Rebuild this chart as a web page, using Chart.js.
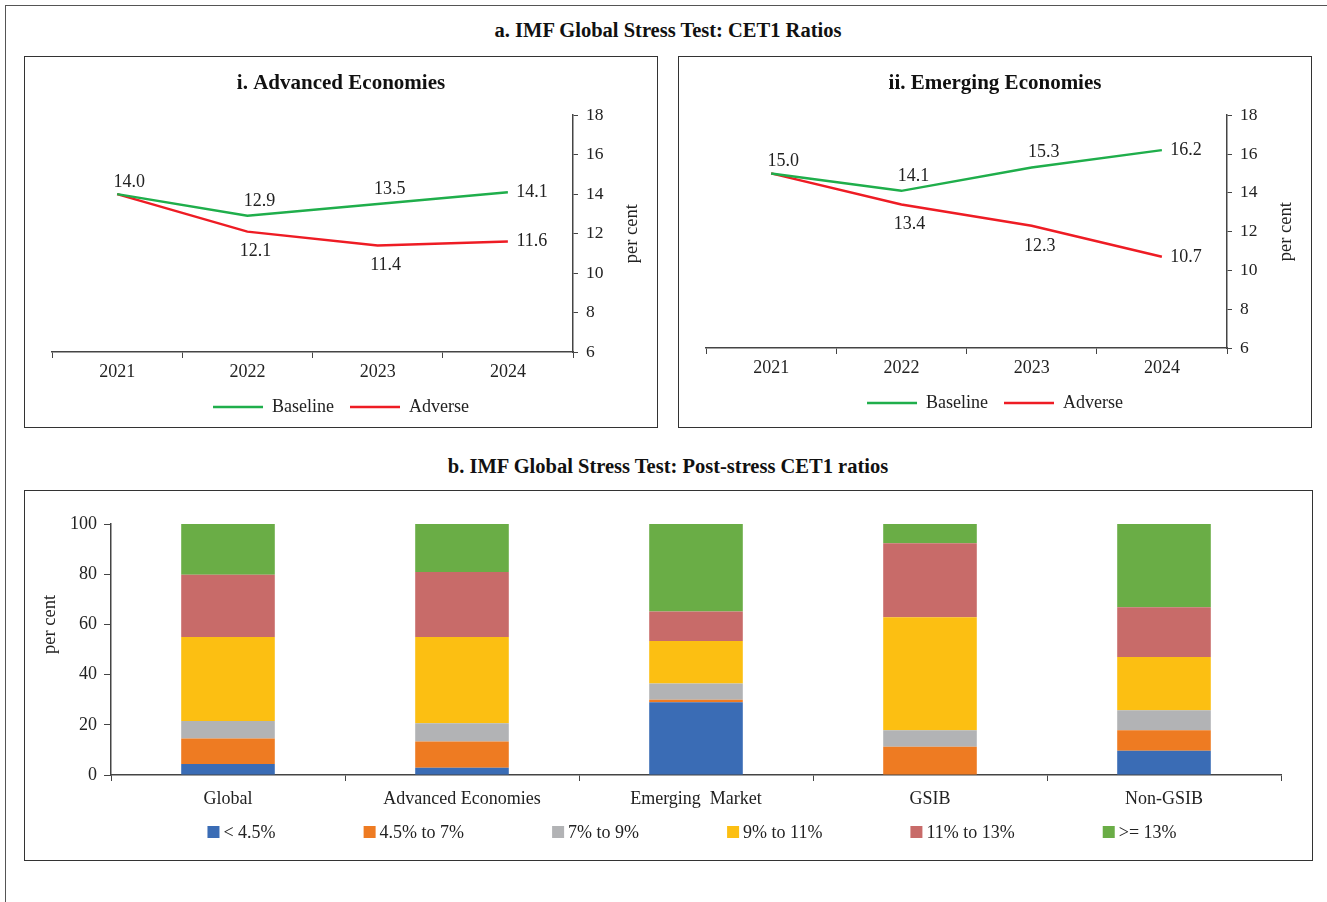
<!DOCTYPE html>
<html>
<head>
<meta charset="utf-8">
<script src="https://cdn.jsdelivr.net/npm/chart.js@4.4.1/dist/chart.umd.min.js"></script>
<style>
  body { margin: 0; background: #fff; font-family: "Liberation Serif", serif; }
  .frame { position: absolute; left: 5px; top: 5px; width: 1340px; height: 920px; border: 1.5px solid #555; }
  .box { position: absolute; border: 1.5px solid #333; box-sizing: border-box; }
  .head { position: absolute; left: 0; width: 1336px; text-align: center; font-weight: bold; font-size: 20.5px; line-height: 24px; color: #111; }
  canvas { position: absolute; }
</style>
</head>
<body>
<div class="frame"></div>
<div class="head" style="top:18px">a. IMF Global Stress Test: CET1 Ratios</div>
<div class="box" style="left:24px;top:56px;width:634px;height:372px"></div>
<div class="box" style="left:678px;top:56px;width:634px;height:372px"></div>
<div class="head" style="top:454px">b. IMF Global Stress Test: Post-stress CET1 ratios</div>
<div class="box" style="left:24px;top:490px;width:1289px;height:371px"></div>

<canvas id="adv" width="630" height="368" style="left:26px;top:58px"></canvas>
<canvas id="emg" width="630" height="368" style="left:680px;top:58px"></canvas>
<canvas id="bars" width="1284" height="367" style="left:26px;top:492px"></canvas>

<script>
// ---- data ----
const years = ["2021", "2022", "2023", "2024"];
const advBaseline = [14.0, 12.9, 13.5, 14.1];
const advAdverse  = [14.0, 12.1, 11.4, 11.6];
const emgBaseline = [15.0, 14.1, 15.3, 16.2];
const emgAdverse  = [15.0, 13.4, 12.3, 10.7];

const groups = ["Global", "Advanced Economies", "Emerging  Market", "GSIB", "Non-GSIB"];
const bandLabels = ["< 4.5%", "4.5% to 7%", "7% to 9%", "9% to 11%", "11% to 13%", ">= 13%"];
const below45   = [4.4, 2.9, 29.0, 0.0, 9.7];
const from45to7 = [10.1, 10.4, 1.0, 11.3, 8.1];
const from7to9  = [7.0, 7.3, 6.5, 6.5, 8.0];
const from9to11 = [33.5, 34.4, 16.9, 45.0, 21.2];
const from11to13 = [24.8, 25.9, 11.7, 29.5, 19.8];
const above13   = [20.2, 19.1, 34.9, 7.7, 33.2];

const bandColors = ["#3a6cb5", "#ee7b22", "#b2b3b5", "#fcbf12", "#c86b69", "#6aad46"];
const FONT = "'Liberation Serif', serif";
const INK = "#222";

// value labels next to the line points
const pointLabels = {
  id: "pointLabels",
  afterDatasetsDraw(chart) {
    const { ctx } = chart;
    ctx.save();
    ctx.font = "18px " + FONT;
    ctx.fillStyle = INK;
    ctx.textAlign = "center";
    ctx.textBaseline = "middle";
    chart.data.datasets.forEach((ds, di) => {
      const meta = chart.getDatasetMeta(di);
      meta.data.forEach((pt, i) => {
        if (i === 0 && di > 0) return; // both series start at the same value
        const last = i === ds.data.length - 1;
        let dx, dy;
        if (last) { dx = 24; dy = 0; }
        else if (i === 0) { dx = 12; dy = -12; }
        else if (di === 0) { dx = 12; dy = -15; }
        else { dx = 8; dy = 20; }
        ctx.fillText(ds.data[i].toFixed(1), pt.x + dx, pt.y + dy);
      });
    });
    ctx.restore();
  },
};

// rotated "per cent" beside the plot, reading bottom to top
const sideTitle = {
  id: "sideTitle",
  afterDraw(chart, args, opts) {
    if (!opts.text) return;
    const { ctx, chartArea } = chart;
    const x = opts.side === "left" ? chartArea.left - opts.offset : chartArea.right + opts.offset;
    ctx.save();
    ctx.translate(x, (chartArea.top + chartArea.bottom) / 2 + (opts.dy || 0));
    ctx.rotate(-Math.PI / 2);
    ctx.font = "18.5px " + FONT;
    ctx.fillStyle = INK;
    ctx.textAlign = "center";
    ctx.textBaseline = "middle";
    ctx.fillText(opts.text, 0, 0);
    ctx.restore();
  },
};

// one-row legend with wide, Excel-like spacing between entries
const rowLegend = {
  id: "rowLegend",
  afterDraw(chart, args, opts) {
    if (!opts.offset) return;
    const { ctx, chartArea } = chart;
    ctx.save();
    ctx.font = "18px " + FONT;
    ctx.textBaseline = "middle";
    const items = chart.data.datasets.map((ds) => ({
      text: ds.label,
      color: ds.backgroundColor,
      w: opts.box + opts.gap + ctx.measureText(ds.label).width,
    }));
    const total = items.reduce((a, it) => a + it.w, 0) + opts.spacing * (items.length - 1);
    let x = (chartArea.left + chartArea.right) / 2 - total / 2 + (opts.dx || 0);
    const y = chartArea.bottom + opts.offset;
    items.forEach((it) => {
      ctx.fillStyle = it.color;
      ctx.fillRect(x, y - opts.box / 2, opts.box, opts.box);
      ctx.fillStyle = INK;
      ctx.fillText(it.text, x + opts.box + opts.gap, y + 1);
      x += it.w + opts.spacing;
    });
    ctx.restore();
  },
};

function lineConfig(title, baseline, adverse, bottomPad) {
  return {
    type: "line",
    data: {
      labels: years,
      datasets: [
        { label: "Baseline", data: baseline, borderColor: "#1fae4b", backgroundColor: "#1fae4b",
          borderWidth: 2.5, pointRadius: 0, tension: 0 },
        { label: "Adverse", data: adverse, borderColor: "#ee1c24", backgroundColor: "#ee1c24",
          borderWidth: 2.5, pointRadius: 0, tension: 0 },
      ],
    },
    options: {
      responsive: false,
      animation: false,
      layout: { padding: { left: 26, right: 26, top: 0, bottom: bottomPad } },
      plugins: {
        title: {
          display: true, text: title, color: "#111",
          font: { family: FONT, size: 21, weight: "bold" },
          padding: { top: 13, bottom: 19 },
        },
        legend: {
          position: "bottom",
          labels: {
            usePointStyle: true, pointStyle: "line", pointStyleWidth: 50,
            color: INK, font: { family: FONT, size: 18 }, padding: 16,
          },
        },
        tooltip: { enabled: false },
        sideTitle: { text: "per cent", side: "right", offset: 59 },
      },
      scales: {
        x: {
          offset: true,
          grid: { offset: true, drawOnChartArea: false, tickLength: 6, color: "#444" },
          border: { color: "#444", width: 1.5 },
          ticks: { color: INK, font: { family: FONT, size: 18 }, padding: 3 },
          afterFit: (s) => { s.height = 30; },
        },
        y: {
          position: "right",
          min: 6, max: 18,
          grid: { drawOnChartArea: false, tickLength: 5, color: "#444" },
          border: { color: "#444", width: 1.5 },
          ticks: { stepSize: 2, color: INK, font: { family: FONT, size: 17.5 }, padding: 8 },
          afterFit: (s) => { s.width = 57; },
        },
      },
    },
    plugins: [pointLabels, sideTitle],
  };
}

new Chart(document.getElementById("adv"), lineConfig("i. Advanced Economies", advBaseline, advAdverse, 0));
new Chart(document.getElementById("emg"), lineConfig("ii. Emerging Economies", emgBaseline, emgAdverse, 4));

const bandData = [below45, from45to7, from7to9, from9to11, from11to13, above13];

new Chart(document.getElementById("bars"), {
  type: "bar",
  data: {
    labels: groups,
    datasets: bandLabels.map((lab, i) => ({
      label: lab,
      data: bandData[i],
      backgroundColor: bandColors[i],
      borderWidth: 0,
      barPercentage: 0.4,
      categoryPercentage: 1,
    })),
  },
  options: {
    responsive: false,
    animation: false,
    layout: { padding: { left: 0, right: 29, top: 32, bottom: 44 } },
    plugins: {
      legend: { display: false },
      tooltip: { enabled: false },
      rowLegend: { offset: 57, box: 12, gap: 4, spacing: 88, dx: -4 },
      sideTitle: { text: "per cent", side: "left", offset: 61, dy: -25 },
    },
    scales: {
      x: {
        stacked: true,
        grid: { offset: true, drawOnChartArea: false, tickLength: 6, color: "#444" },
        border: { color: "#444", width: 1.5 },
        ticks: { color: INK, font: { family: FONT, size: 18 }, padding: 7 },
        afterFit: (s) => { s.height = 40; },
      },
      y: {
        stacked: true,
        min: 0, max: 100,
        grid: { drawOnChartArea: false, tickLength: 7, color: "#444" },
        border: { color: "#444", width: 1.5 },
        ticks: { stepSize: 20, color: INK, font: { family: FONT, size: 18 }, padding: 7 },
        afterFit: (s) => { s.width = 85; },
      },
    },
  },
  plugins: [rowLegend, sideTitle],
});
</script>
</body>
</html>
